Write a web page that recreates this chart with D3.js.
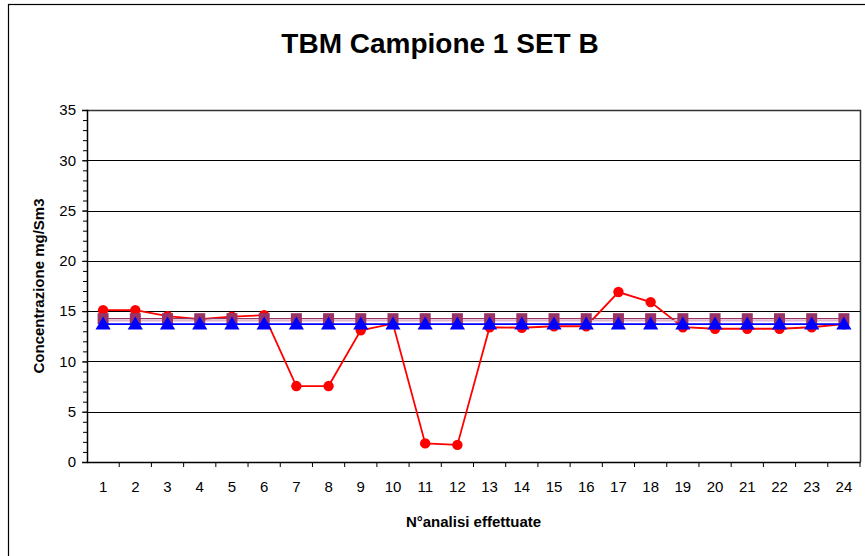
<!DOCTYPE html>
<html>
<head>
<meta charset="utf-8">
<title>TBM Campione 1 SET B</title>
<script src="https://cdn.jsdelivr.net/npm/d3@7"></script>
<style>
  body{ margin:0; background:#fff; }
  text{ font-family: "Liberation Sans", Arial, Helvetica, sans-serif; fill:#000; }
  .tick text{ font-size:15px; }
</style>
</head>
<body>
<div id="vis"></div>
<script>
  // chart values
  var analisi = [1,2,3,4,5,6,7,8,9,10,11,12,13,14,15,16,17,18,19,20,21,22,23,24];
  var misure = [15.1,15.1,14.5,14.2,14.45,14.6,7.55,7.55,13.1,13.75,1.85,1.7,13.4,13.35,13.5,13.5,16.9,15.9,13.4,13.25,13.25,13.25,13.4,13.7];
  var media = [14.25,14.25,14.25,14.25,14.25,14.25,14.25,14.25,14.25,14.25,14.25,14.25,14.25,14.25,14.25,14.25,14.25,14.25,14.25,14.25,14.25,14.25,14.25,14.25];
  var limite = [14.05,14.05,14.05,14.05,14.05,14.05,14.05,14.05,14.05,14.05,14.05,14.05,14.05,14.05,14.05,14.05,14.05,14.05,14.05,14.05,14.05,14.05,14.05,14.05];
  var riferimento = [13.7,13.7,13.7,13.7,13.7,13.7,13.7,13.7,13.7,13.7,13.7,13.7,13.7,13.7,13.7,13.7,13.7,13.7,13.7,13.7,13.7,13.7,13.7,13.7];
  var yTicks = [0,5,10,15,20,25,30,35];

  var width = 865, height = 556;
  var pLeft = 87, pTop = 110, pRight = 860, pBottom = 462;

  var svg = d3.select('#vis').append('svg')
    .attr('width', width).attr('height', height);

  // chart border
  svg.append('rect')
    .attr('x', 8.5).attr('y', 4.5)
    .attr('width', 880).attr('height', 600)
    .style('fill','none').style('stroke','#000').style('stroke-width',1.2);

  svg.append('text')
    .attr('x', 440).attr('y', 53)
    .attr('text-anchor','middle')
    .style('font-size','28px').style('font-weight','bold')
    .text('TBM Campione 1 SET B');

  var x = d3.scaleBand().domain(analisi).range([pLeft, pRight]);
  var y = d3.scaleLinear().domain([0,35]).range([pBottom, pTop]);
  var cx = function(d,i){ return x(analisi[i]) + x.bandwidth()/2; };

  // gridlines
  svg.selectAll('line.grid').data(yTicks.slice(1, -1)).enter().append('line')
    .attr('class','grid')
    .attr('x1', pLeft).attr('x2', pRight)
    .attr('y1', function(d){ return Math.round(y(d))+0.5; })
    .attr('y2', function(d){ return Math.round(y(d))+0.5; })
    .style('stroke','#000').style('stroke-width',1);

  // plot border top / right
  svg.append('path')
    .attr('d','M'+pLeft+','+(pTop+0.5)+'H'+(pRight+0.5)+'V'+pBottom)
    .style('fill','none').style('stroke','#333').style('stroke-width',1.5);

  // y axis with minor ticks
  var yMinor = d3.axisLeft(y).tickValues(d3.range(0,36,1)).tickSize(4).tickFormat('');
  svg.append('g').attr('transform','translate('+pLeft+',0)').call(yMinor)
    .call(function(g){ g.select('.domain').remove(); })
    .selectAll('line').style('stroke','#000');
  var yAxis = d3.axisLeft(y).tickValues(yTicks).tickSize(5).tickPadding(6);
  var gy = svg.append('g').attr('transform','translate('+pLeft+',0)').call(yAxis);
  gy.select('.domain').style('stroke','#000').style('stroke-width',1.5);

  // x axis, ticks on category boundaries
  var xAxis = d3.axisBottom(x).tickSize(0).tickPadding(19);
  var gx = svg.append('g').attr('transform','translate(0,'+pBottom+')').call(xAxis);
  gx.select('.domain').style('stroke','#000').style('stroke-width',1.5);
  gx.selectAll('line.bound').data(analisi).enter().append('line')
    .attr('class','bound')
    .attr('x1', function(d){ return x(d)+x.bandwidth(); })
    .attr('x2', function(d){ return x(d)+x.bandwidth(); })
    .attr('y1', 0).attr('y2', 5)
    .style('stroke','#000');

  svg.append('text')
    .attr('transform','translate(44,'+((pTop+pBottom)/2)+') rotate(-90)')
    .attr('text-anchor','middle')
    .style('font-size','15px').style('font-weight','bold')
    .text('Concentrazione mg/Sm3');

  svg.append('text')
    .attr('x', (pLeft+pRight)/2).attr('y', 527)
    .attr('text-anchor','middle')
    .style('font-size','15px').style('font-weight','bold')
    .text('N°analisi effettuate');

  var line = d3.line().x(cx).y(function(d){ return y(d); });

  // measured values (red circles)
  svg.append('path').attr('d', line(misure))
    .style('fill','none').style('stroke','#ff0000').style('stroke-width',1.8);
  svg.selectAll('circle.mis').data(misure).enter().append('circle')
    .attr('class','mis')
    .attr('cx', cx).attr('cy', function(d){ return y(d); })
    .attr('r', 5.2).style('fill','#ff0000');

  // pink line, no markers
  svg.append('path').attr('d', line(limite))
    .style('fill','none').style('stroke','#e0b4cf').style('stroke-width',1.5);

  // mean (purple squares)
  svg.append('path').attr('d', line(media))
    .style('fill','none').style('stroke','#993366').style('stroke-width',1.2);
  svg.selectAll('rect.med').data(media).enter().append('rect')
    .attr('class','med')
    .attr('x', function(d,i){ return cx(d,i)-5.5; })
    .attr('y', function(d){ return y(d)-5.5; })
    .attr('width', 11).attr('height', 11)
    .style('fill','#993366');

  // reference (blue triangles)
  svg.append('path').attr('d', line(riferimento))
    .style('fill','none').style('stroke','#0000ff').style('stroke-width',1.8);
  var tri = d3.symbol().type(d3.symbolTriangle).size(100);
  svg.selectAll('path.rif').data(riferimento).enter().append('path')
    .attr('class','rif')
    .attr('transform', function(d,i){ return 'translate('+cx(d,i)+','+(y(d)+1)+')'; })
    .attr('d', tri)
    .style('fill','#0000ff');
</script>
</body>
</html>
